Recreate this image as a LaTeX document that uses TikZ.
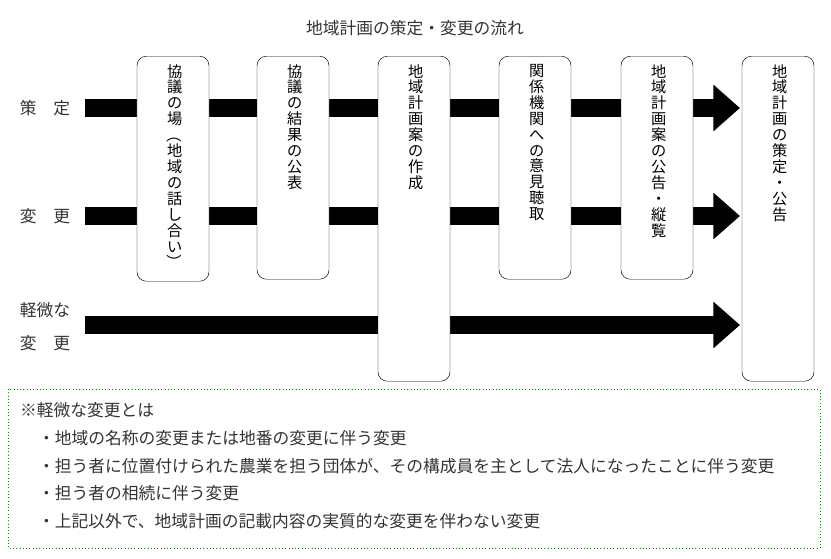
\documentclass[tikz,border=0pt]{standalone}
\usepackage{fontspec}
\setmainfont{Noto Sans CJK JP}
\usetikzlibrary{arrows.meta,positioning}
\newcommand{\vp}[1]{\rotatebox[origin=c]{-90}{#1}}
\tikzset{
  stepbox/.style={draw, rounded corners=8pt, fill=white, minimum width=2.16cm,
    anchor=north, text width=1em, align=center, inner sep=0pt,
    font=\fontsize{13}{13.6}\selectfont, text depth=0pt},
  bigarrow/.style={line width=0.54cm, -{Triangle[length=0.8cm, width=1.35cm]}},
  lbl/.style={font=\fontsize{14.3}{16}\selectfont, text=black!80},
}
\begin{document}
\begin{tikzpicture}[x=0.03cm,y=-0.03cm]
  \useasboundingbox (0,0) rectangle (831,559);

  % title
  \node[lbl] (title) at (415,28) {地域計画の策定・変更の流れ};

  % row labels
  \node[lbl] (l1) at (45,108) {策　定};
  \node[lbl] (l2) at (45,216) {変　更};
  \node[lbl, align=center, font=\fontsize{14.3}{28}\selectfont] (l3) at (45,327) {軽微な\\変　更};

  % boxes (tall ones first)
  \path (173,56) coordinate (c1) (293,56) coordinate (c2) (414,56) coordinate (c3)
        (535,56) coordinate (c4) (657,56) coordinate (c5) (778,56) coordinate (c6);

  % arrows
  \coordinate (t1) at (740,108);
  \coordinate (t2) at (740,216);
  \coordinate (t3) at (740,325);
  \draw[bigarrow] (85,108) -- (t1);
  \draw[bigarrow] (85,216) -- (t2);
  \draw[bigarrow] (85,325) -- (t3);

  \node[stepbox, minimum height=225*0.03cm] (b1) at (c1) {};
  \node[stepbox, minimum height=223*0.03cm] (b2) at (c2) {};
  \node[stepbox, minimum height=325*0.03cm] (b3) at (c3) {};
  \node[stepbox, minimum height=223*0.03cm] (b4) at (c4) {};
  \node[stepbox, minimum height=223*0.03cm] (b5) at (c5) {};
  \node[stepbox, minimum height=325*0.03cm] (b6) at (c6) {};

  % vertical texts
  \node[stepbox, draw=none, fill=none, below=8*0.03cm of b1.north] (v1)
    {協\\議\\の\\場\\\vp{（}\\地\\域\\の\\話\\し\\合\\い\\\vp{）}};
  \node[stepbox, draw=none, fill=none, below=8*0.03cm of b2.north] (v2)
    {協\\議\\の\\結\\果\\の\\公\\表};
  \node[stepbox, draw=none, fill=none, below=8*0.03cm of b3.north] (v3)
    {地\\域\\計\\画\\案\\の\\作\\成};
  \node[stepbox, draw=none, fill=none, below=8*0.03cm of b4.north] (v4)
    {関\\係\\機\\関\\へ\\の\\意\\見\\聴\\取};
  \node[stepbox, draw=none, fill=none, below=8*0.03cm of b5.north] (v5)
    {地\\域\\計\\画\\案\\の\\公\\告\\・\\縦\\覧};
  \node[stepbox, draw=none, fill=none, below=8*0.03cm of b6.north] (v6)
    {地\\域\\計\\画\\の\\策\\定\\・\\公\\告};

  % note
  \draw[green!55!black, dotted, thick] (8,389) rectangle (820,548);
  \node[lbl, anchor=west] (n0) at (16,410) {※軽微な変更とは};
  \node[lbl, anchor=west] (n1) at (34,438) {・地域の名称の変更または地番の変更に伴う変更};
  \node[lbl, anchor=west] (n2) at (34,466) {・担う者に位置付けられた農業を担う団体が、その構成員を主として法人になったことに伴う変更};
  \node[lbl, anchor=west] (n3) at (34,493) {・担う者の相続に伴う変更};
  \node[lbl, anchor=west] (n4) at (34,521) {・上記以外で、地域計画の記載内容の実質的な変更を伴わない変更};
\end{tikzpicture}
\end{document}
